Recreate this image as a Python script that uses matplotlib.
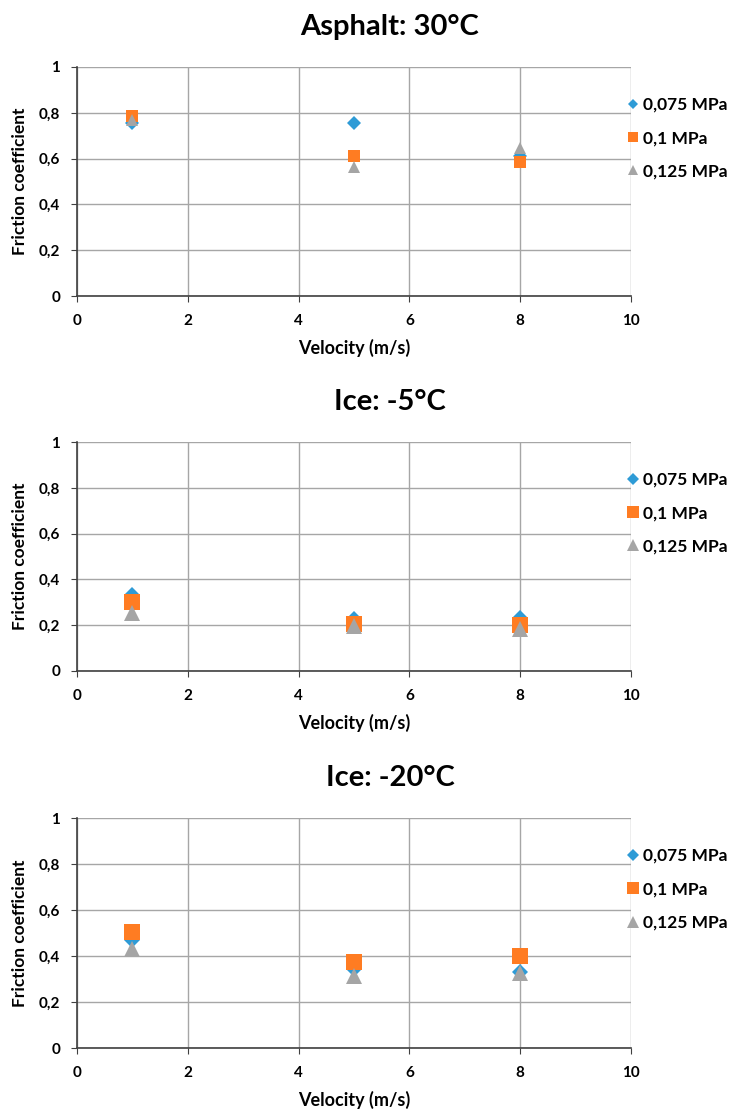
import numpy as np
import matplotlib.pyplot as plt
from matplotlib.ticker import FuncFormatter

plt.rcParams['font.family'] = ['Lato', 'DejaVu Sans']
plt.rcParams['font.weight'] = 'bold'

# velocities (m/s)
velocity = [1, 5, 8]
series_labels = ['0,075 MPa', '0,1 MPa', '0,125 MPa']
titles = ['Asphalt: 30°C', 'Ice: -5°C', 'Ice: -20°C']

# friction coefficient per panel, per pressure
asphalt_30 = [[0.755, 0.755, 0.61],
              [0.785, 0.61, 0.585],
              [0.77, 0.565, 0.645]]
ice_m5 = [[0.33, 0.225, 0.23],
          [0.30, 0.205, 0.20],
          [0.255, 0.195, 0.185]]
ice_m20 = [[0.47, 0.345, 0.33],
           [0.505, 0.375, 0.40],
           [0.43, 0.315, 0.325]]
panels = [asphalt_30, ice_m5, ice_m20]

colors = ['#2E9BD6', '#FF7C22', '#A5A5A5']
markers = ['D', 's', '^']
sizes = [[7, 9, 9], [8, 11, 11], [8, 11, 11]]

W, H = 731, 1115
fig = plt.figure(figsize=(W / 100, H / 100), dpi=100)

# axes boxes in pixels: (left, top, right, bottom)
boxes = [(77, 67, 631, 296), (77, 442, 631, 671), (77, 818, 631, 1048)]

comma = FuncFormatter(lambda v, p: ('%g' % v).replace('.', ','))

for k, (data, title, box) in enumerate(zip(panels, titles, boxes)):
    l, t, r, b = box
    ax = fig.add_axes([l / W, 1 - b / H, (r - l) / W, (b - t) / H])
    for i in range(3):
        ax.plot(velocity, data[i], linestyle='none', marker=markers[i],
                color=colors[i], markersize=sizes[k][i], label=series_labels[i],
                markeredgewidth=0)
    ax.set_xlim(0, 10)
    ax.set_ylim(0, 1)
    ax.set_xticks(np.arange(0, 11, 2))
    ax.set_yticks(np.arange(0, 1.01, 0.2))
    ax.yaxis.set_major_formatter(comma)
    ax.grid(True, color='#A6A6A6', linewidth=1)
    ax.set_axisbelow(True)
    for s in ['top', 'right']:
        ax.spines[s].set_visible(False)
    for s in ['left', 'bottom']:
        ax.spines[s].set_color('#404040')
        ax.spines[s].set_linewidth(1.2)
    ax.tick_params(axis='y', length=4, color='#404040', labelsize=11, pad=8)
    ax.tick_params(axis='x', length=4, color='#404040', labelsize=11, pad=9)
    for lab in ax.get_xticklabels() + ax.get_yticklabels():
        lab.set_fontweight('bold')
    ax.set_xlabel('Velocity (m/s)', fontsize=13, fontweight='bold', labelpad=8)
    ax.set_ylabel('Friction coefficient', fontsize=12.5, fontweight='bold', labelpad=8)
    fig.text(390 / W, 1 - (t - 40) / H, title, fontsize=21, fontweight='bold',
             ha='center', va='center')
    ax.legend(loc='upper left', bbox_to_anchor=(0.975, 0.9), frameon=False,
              handletextpad=0.1, handlelength=1.0, labelspacing=1.0,
              prop={'size': 12.5, 'weight': 'bold'}, markerscale=0.8,
              borderaxespad=0)

fig.savefig('out.png', dpi=100)
